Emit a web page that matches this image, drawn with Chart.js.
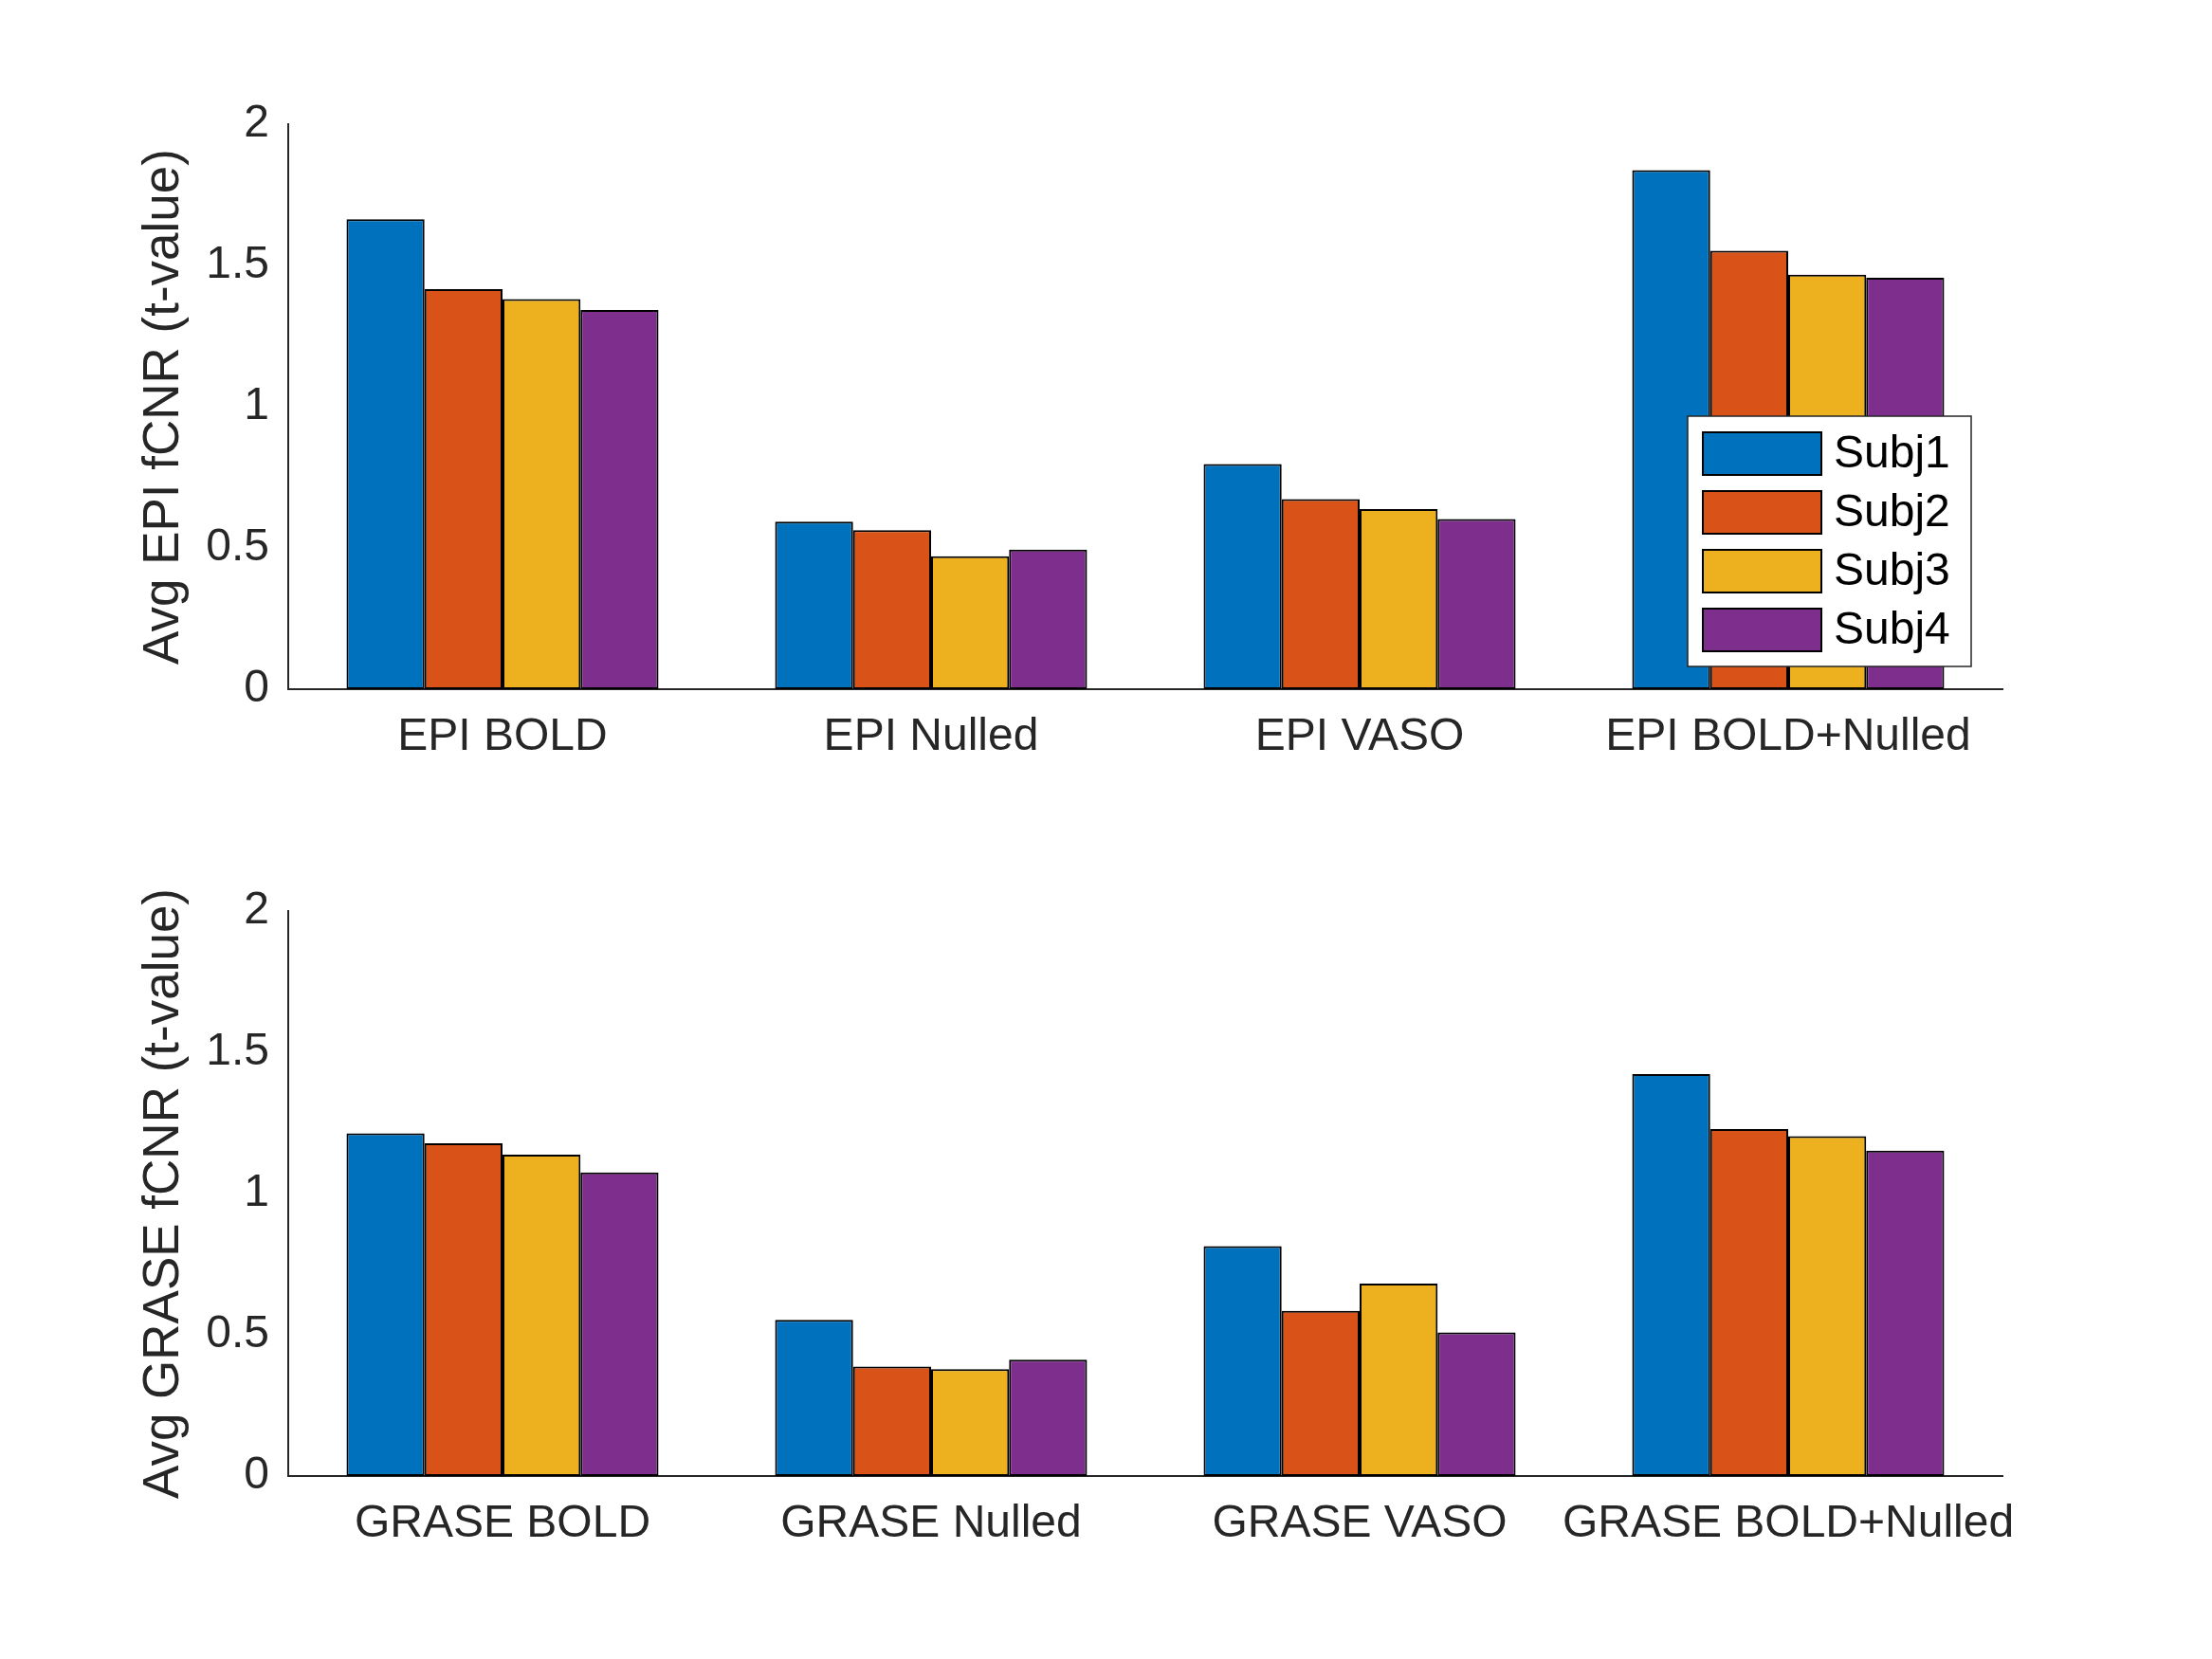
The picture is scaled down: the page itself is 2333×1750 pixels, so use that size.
<!DOCTYPE html>
<html>
<head>
<meta charset="utf-8">
<title>Avg fCNR</title>
<script src="https://cdn.jsdelivr.net/npm/chart.js"></script>
<style>
  html, body { margin: 0; padding: 0; background: #fff; }
  .wrap { position: relative; width: 2333px; height: 1750px; }
  canvas { position: absolute; left: 0; }
</style>
</head>
<body>
<div class="wrap">
  <canvas id="epi" width="2333" height="875" style="top:0"></canvas>
  <canvas id="grase" width="2333" height="875" style="top:875px"></canvas>
</div>
<script>
// data
const subjects = ['Subj1', 'Subj2', 'Subj3', 'Subj4'];
const subjColors = ['#0072BD', '#D95319', '#EDB120', '#7E2F8E'];

const epiCategories = ['EPI BOLD', 'EPI Nulled', 'EPI VASO', 'EPI BOLD+Nulled'];
const epiSubj1 = [1.664, 0.593, 0.797, 1.837];
const epiSubj2 = [1.416, 0.563, 0.673, 1.552];
const epiSubj3 = [1.381, 0.471, 0.638, 1.467];
const epiSubj4 = [1.342, 0.494, 0.602, 1.456];

const graseCategories = ['GRASE BOLD', 'GRASE Nulled', 'GRASE VASO', 'GRASE BOLD+Nulled'];
const graseSubj1 = [1.213, 0.553, 0.814, 1.423];
const graseSubj2 = [1.178, 0.388, 0.585, 1.228];
const graseSubj3 = [1.138, 0.378, 0.681, 1.203];
const graseSubj4 = [1.075, 0.412, 0.508, 1.152];

const yTicks = ['0', '0.5', '1', '1.5', '2'];

const FONT = "'Liberation Sans', Arial, Helvetica, sans-serif";
const AXIS_COLOR = '#262626';
const PLOT_LEFT = 304;
const PLOT_RIGHT = 2112;
const PLOT_H = 596;

// legend drawn inside the top axes, like the matlab one
const boxLegend = {
  id: 'boxLegend',
  afterDraw(chart, args, opts) {
    if (!opts.show) return;
    const ctx = chart.ctx;
    const x0 = 1780, y0 = 439, w = 299, h = 264;
    ctx.save();
    ctx.fillStyle = '#fff';
    ctx.fillRect(x0, y0, w, h);
    ctx.strokeStyle = AXIS_COLOR;
    ctx.lineWidth = 1.5;
    ctx.strokeRect(x0, y0, w, h);
    ctx.font = '48px ' + FONT;
    ctx.textBaseline = 'middle';
    ctx.textAlign = 'left';
    chart.data.datasets.forEach((ds, i) => {
      const cy = 478 + i * 62;
      ctx.fillStyle = ds.backgroundColor;
      ctx.fillRect(1796, cy - 22, 125, 45);
      ctx.strokeStyle = '#000';
      ctx.lineWidth = 2;
      ctx.strokeRect(1796, cy - 22, 125, 45);
      ctx.fillStyle = '#000';
      ctx.fillText(ds.label, 1934, cy + 2);
    });
    ctx.restore();
  }
};

function makeChart(id, categories, series, yTitle, topPad, showLegend) {
  const datasets = series.map((vals, i) => ({
    label: subjects[i],
    data: vals,
    backgroundColor: subjColors[i],
    borderColor: '#000',
    borderWidth: 2,
    borderSkipped: false,
    categoryPercentage: 0.728,
    barPercentage: 1.0
  }));
  const canvasH = 875;
  return new Chart(document.getElementById(id), {
    type: 'bar',
    data: { labels: categories, datasets },
    options: {
      responsive: false,
      animation: false,
      devicePixelRatio: 1,
      layout: { padding: { left: 0, right: 2333 - PLOT_RIGHT, top: topPad, bottom: 0 } },
      plugins: {
        legend: { display: false },
        tooltip: { enabled: false },
        boxLegend: { show: showLegend }
      },
      scales: {
        x: {
          grid: { display: false, drawTicks: false },
          border: { display: true, color: AXIS_COLOR, width: 2 },
          ticks: { color: AXIS_COLOR, font: { family: FONT, size: 48 }, padding: 22, maxRotation: 0, autoSkip: false },
          afterFit(scale) { scale.height = canvasH - topPad - PLOT_H; }
        },
        y: {
          min: 0, max: 2,
          grid: { display: false, drawTicks: false },
          border: { display: true, color: AXIS_COLOR, width: 2 },
          ticks: {
            stepSize: 0.5,
            color: AXIS_COLOR,
            font: { family: FONT, size: 48 },
            padding: 20,
            callback: (v, i) => yTicks[i]
          },
          title: {
            display: true,
            text: yTitle,
            color: AXIS_COLOR,
            font: { family: FONT, size: 53 },
            padding: { top: 142, bottom: 0 }
          },
          afterFit(scale) { scale.width = PLOT_LEFT; }
        }
      }
    },
    plugins: [boxLegend]
  });
}

makeChart('epi', epiCategories, [epiSubj1, epiSubj2, epiSubj3, epiSubj4],
  'Avg EPI fCNR (t-value)', 131, true);
makeChart('grase', graseCategories, [graseSubj1, graseSubj2, graseSubj3, graseSubj4],
  'Avg GRASE fCNR (t-value)', 86, false);
</script>
</body>
</html>
